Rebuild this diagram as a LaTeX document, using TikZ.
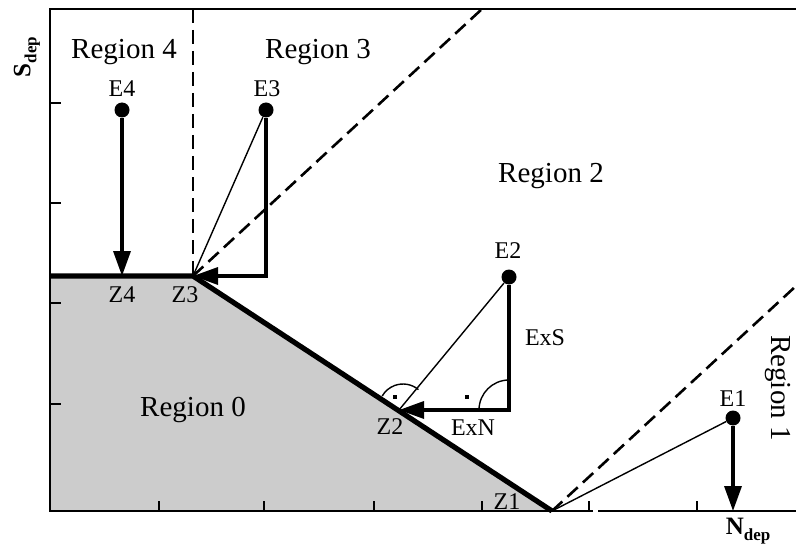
\documentclass[tikz,border=0pt]{standalone}
\usepackage{fontspec}
\setmainfont{Liberation Serif}
\usetikzlibrary{arrows.meta,positioning}

\begin{document}
\begin{tikzpicture}[x=0.5pt, y=0.5pt,
  region/.style={font=\fontsize{14.5}{16}\selectfont, inner sep=0pt},
  lbl/.style={font=\fontsize{12}{14}\selectfont, inner sep=0pt},
  axlbl/.style={font=\fontsize{12.5}{14}\selectfont\bfseries, inner sep=0pt},
  dot/.style={circle, fill, inner sep=0pt, minimum size=7.5pt},
  tick/.style={rectangle, fill, inner sep=0pt, minimum size=2pt},
  arrow/.style={-{Triangle[length=12.5pt, width=8.5pt]}, line width=1.7pt},
  thinline/.style={line width=0.7pt},
  bound/.style={line width=2.6pt},
  dashline/.style={line width=1.3pt, dash pattern=on 7pt off 3.5pt},
  axis/.style={line width=1.2pt}
]
  \useasboundingbox (0,0) rectangle (796,547);

  % frame points
  \coordinate (o)     at (50,36);
  \coordinate (ytop)  at (50,538);
  \coordinate (tr)    at (796,538);
  \coordinate (xgapa) at (593,36);
  \coordinate (xgapb) at (598,36);
  \coordinate (xend)  at (796,36);

  % boundary points
  \coordinate (zl) at (50,271);
  \coordinate (z4) at (122,271);
  \coordinate (z3) at (193,271);
  \coordinate (z2) at (399,137);
  \coordinate (z1) at (552,36);
  \coordinate (f1) at (733,36);

  % region border ends
  \coordinate (vtop)  at (193,538);
  \coordinate (dtop)  at (482,538);
  \coordinate (dend)  at (796,261);

  \fill[black!20] (o) -- (zl) -- (z3) -- (z1) -- cycle;

  \draw[axis] (tr) -- (ytop) -- (o) -- (xgapa);
  \draw[axis] (xgapb) -- (xend);
  \foreach \x in {159,264,374,482,589,697} \draw[line width=0.9pt] (\x,36) -- ++(0,10);
  \foreach \y in {143,244,344,444} \draw[line width=0.9pt] (50,\y) -- ++(11,0);

  \draw[dashline] (vtop) -- (z3);
  \draw[dashline] (z3) -- (dtop);
  \draw[dashline] (z1) -- (dend);

  \draw[bound] (zl) -- (z3) -- (z1);

  % points E
  \node[dot] (e4) at (122,437) {};
  \node[dot] (e3) at (266,437) {};
  \node[dot] (e2) at (509,270) {};
  \node[dot] (e1) at (733,129) {};

  \draw[arrow] (e4) -- (z4);
  \draw[thinline] (e3) -- (z3);
  \draw[arrow] (e3) |- (z3);
  \draw[thinline] (e2) -- (z2);
  \draw[arrow] (e2) |- (z2);
  \draw[thinline] (e1) -- (z1);
  \draw[arrow] (e1) -- (f1);

  % angle marks
  \draw[thinline] (509,137) ++(90:30) arc[start angle=90, end angle=180, radius=30];
  \draw[thinline] (403,139) ++(50:24) arc[start angle=50, end angle=150, radius=24];
  \node[tick] (q1) at (467,150) {};
  \node[tick] (q2) at (395,150) {};

  % labels
  \node[region] (r4) at (124,495) {Region 4};
  \node[region] (r3) at (318,495) {Region 3};
  \node[region] (r2) at (551,371) {Region 2};
  \node[region] (r0) at (193,137) {Region 0};
  \node[region, rotate=-90] (r1) at (778,159) {Region 1};

  \node[lbl] (le4) at (122,458) {E4};
  \node[lbl] (le3) at (267,458) {E3};
  \node[lbl] (le2) at (508,296) {E2};
  \node[lbl] (le1) at (733,148) {E1};
  \node[lbl] (lz4) at (122,252) {Z4};
  \node[lbl] (lz3) at (185,252) {Z3};
  \node[lbl] (lz2) at (390,120) {Z2};
  \node[lbl] (lz1) at (507,45) {Z1};
  \node[lbl] (exs) at (545,209) {ExS};
  \node[lbl] (exn) at (473,119) {ExN};

  \node[axlbl, rotate=90] (sdep) at (27,490) {S\raisebox{-3pt}{\fontsize{8.5}{9}\selectfont dep}};
  \node[axlbl] (ndep) at (748,16) {N\raisebox{-3pt}{\fontsize{8.5}{9}\selectfont dep}};
\end{tikzpicture}
\end{document}
